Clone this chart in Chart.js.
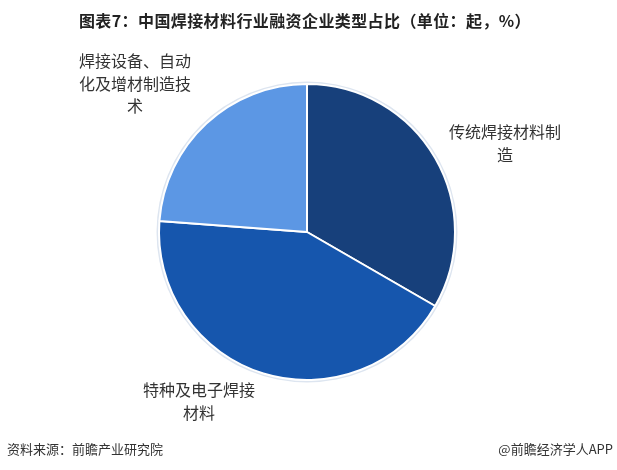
<!DOCTYPE html>
<html>
<head>
<meta charset="utf-8">
<script src="https://cdn.jsdelivr.net/npm/chart.js@4.4.1/dist/chart.umd.min.js"></script>
<style>
    html, body { margin: 0; padding: 0; background: #fff; }
    #wrap { position: relative; width: 617px; height: 470px; font-family: "Noto Sans CJK SC", sans-serif; }
    #chart { position: absolute; left: 0; top: 0; }
    .title { position: absolute; left: 0; width: 610px; top: 8px; text-align: center; font-size: 16px; font-weight: bold; color: #222; letter-spacing: 0.4px; }
    .foot { position: absolute; top: 439px; font-size: 13px; color: #333; }
</style>
</head>
<body>
<div id="wrap">
    <canvas id="chart" width="617" height="470"></canvas>
    <div class="title">图表7：中国焊接材料行业融资企业类型占比（单位：起，%）</div>
    <div class="foot" style="left:7px">资料来源：前瞻产业研究院</div>
    <div class="foot" style="right:4px">@前瞻经济学人APP</div>
</div>
<script>
const categories = ['传统焊接材料制造', '特种及电子焊接材料', '焊接设备、自动化及增材制造技术'];
const values = [7, 9, 5];
const labelLines = [
    ['传统焊接材料制', '造'],
    ['特种及电子焊接', '材料'],
    ['焊接设备、自动', '化及增材制造技', '术']
];
const colors = ['#17407b', '#1656ad', '#5c97e4'];

// where each slice's label sits (center x, first line y)
const labelSpots = [[505, 132], [199, 390], [135, 61]];

const ringPlugin = {
    id: 'ring',
    beforeDatasetsDraw(chart) {
        const arc = chart.getDatasetMeta(0).data[0];
        const ctx = chart.ctx;
        ctx.save();
        ctx.beginPath();
        ctx.arc(arc.x, arc.y, arc.outerRadius + 2.5, 0, Math.PI * 2);
        ctx.fillStyle = '#dde5f0';
        ctx.fill();
        ctx.restore();
    }
};

const labelPlugin = {
    id: 'sliceLabels',
    afterDraw(chart) {
        const ctx = chart.ctx;
        ctx.save();
        ctx.font = '16px "Noto Sans CJK SC"';
        ctx.fillStyle = '#333';
        ctx.textAlign = 'center';
        ctx.textBaseline = 'middle';
        labelLines.forEach((lines, i) => {
            const [x, y] = labelSpots[i];
            lines.forEach((t, j) => ctx.fillText(t, x, y + j * 22.5));
        });
        ctx.restore();
    }
};

new Chart(document.getElementById('chart').getContext('2d'), {
    type: 'pie',
    data: {
        labels: categories,
        datasets: [{
            data: values,
            backgroundColor: colors,
            borderColor: '#ffffff',
            borderWidth: 2,
            hoverOffset: 0
        }]
    },
    options: {
        responsive: false,
        animation: false,
        layout: {
            padding: { top: 83, bottom: 89, left: 100, right: 103 }
        },
        plugins: {
            legend: { display: false },
            tooltip: { enabled: false }
        }
    },
    plugins: [ringPlugin, labelPlugin]
});
</script>
</body>
</html>
